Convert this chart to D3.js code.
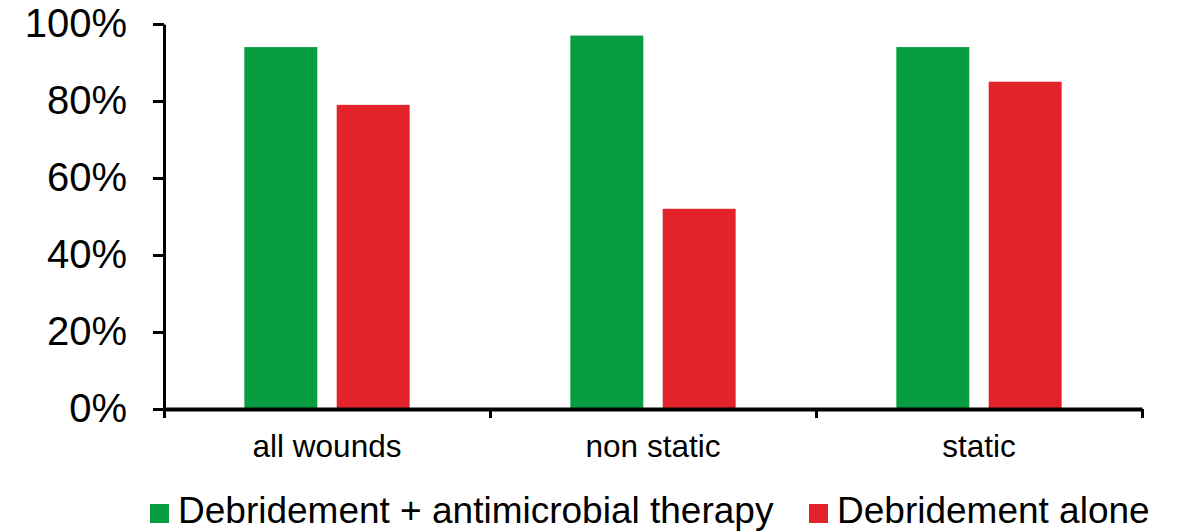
<!DOCTYPE html>
<html>
<head>
<meta charset="utf-8">
<script src="https://cdn.jsdelivr.net/npm/d3@7"></script>
<style>
  html, body { margin: 0; padding: 0; background: #fff; }
  svg { display: block; font-family: "Liberation Sans", Arial, sans-serif; }
</style>
</head>
<body>
<div id="chart"></div>
<script>
const categories = ["all wounds", "non static", "static"];
const seriesNames = ["Debridement + antimicrobial therapy", "Debridement alone"];
const combinedValues = [94, 97, 94];
const aloneValues = [79, 52, 85];
const yTicks = [0, 20, 40, 60, 80, 100];
const colors = ["#069c40", "#e2242a"];

const width = 1183, height = 532;
const margin = { top: 24, right: 41, bottom: 123, left: 164 };
const innerW = width - margin.left - margin.right;
const innerH = height - margin.top - margin.bottom;

const data = categories.map((c, i) => ({
    category: c,
    values: [combinedValues[i], aloneValues[i]],
}));

const svg = d3.select("#chart")
    .append("svg")
    .attr("width", width)
    .attr("height", height);

const g = svg.append("g")
    .attr("transform", `translate(${margin.left},${margin.top})`);

const x = d3.scaleBand()
    .domain(categories)
    .range([0, innerW])
    .padding(0);

const x1 = d3.scaleBand()
    .domain(d3.range(seriesNames.length))
    .range([0, x.bandwidth()])
    .paddingInner(0.21)
    .paddingOuter(0.87);

const y = d3.scaleLinear()
    .domain([0, 100])
    .range([innerH, 0]);

// bars
g.selectAll("g.cat")
    .data(data)
    .join("g")
    .attr("class", "cat")
    .attr("transform", (d) => `translate(${x(d.category)},0)`)
    .selectAll("rect")
    .data((d) => d.values.map((v, si) => ({ v, si })))
    .join("rect")
    .attr("x", (d) => x1(d.si))
    .attr("y", (d) => y(d.v))
    .attr("width", x1.bandwidth())
    .attr("height", (d) => y(0) - y(d.v))
    .attr("fill", (d) => colors[d.si]);

// y axis
const yAxis = g.append("g")
    .call(d3.axisLeft(y)
        .tickValues(yTicks)
        .tickSize(11)
        .tickSizeOuter(0)
        .tickPadding(26)
        .tickFormat((d) => d + "%"));
yAxis.select(".domain").attr("stroke-width", 3);
yAxis.selectAll(".tick line").attr("stroke-width", 3);
yAxis.selectAll(".tick text")
    .attr("font-size", 40)
    .attr("fill", "#000")
    .attr("font-family", "Liberation Sans, Arial, sans-serif");

// x axis: boundary ticks
const xEdges = d3.scaleLinear().domain([0, categories.length]).range([0, innerW]);
const xAxis = g.append("g")
    .attr("transform", `translate(0,${innerH})`)
    .call(d3.axisBottom(xEdges)
        .tickValues(d3.range(categories.length + 1))
        .tickSize(9)
        .tickSizeOuter(0)
        .tickFormat(""));
xAxis.select(".domain").attr("stroke-width", 4);
xAxis.selectAll(".tick line").attr("stroke-width", 3);

// category labels
const xLabels = g.append("g")
    .attr("transform", `translate(0,${innerH})`)
    .call(d3.axisBottom(x).tickSize(0).tickPadding(26));
xLabels.select(".domain").remove();
xLabels.selectAll(".tick text")
    .attr("font-size", 31.5)
    .attr("fill", "#000")
    .attr("font-family", "Liberation Sans, Arial, sans-serif");

// legend
const legendX = [150, 809];
const legend = svg.append("g")
    .selectAll("g")
    .data(seriesNames)
    .join("g")
    .attr("transform", (d, i) => `translate(${legendX[i]},504)`);
legend.append("rect")
    .attr("width", 19)
    .attr("height", 19)
    .attr("fill", (d, i) => colors[i]);
legend.append("text")
    .attr("x", 28)
    .attr("y", 19)
    .attr("font-size", 37)
    .attr("fill", "#000")
    .text((d) => d);
</script>
</body>
</html>
